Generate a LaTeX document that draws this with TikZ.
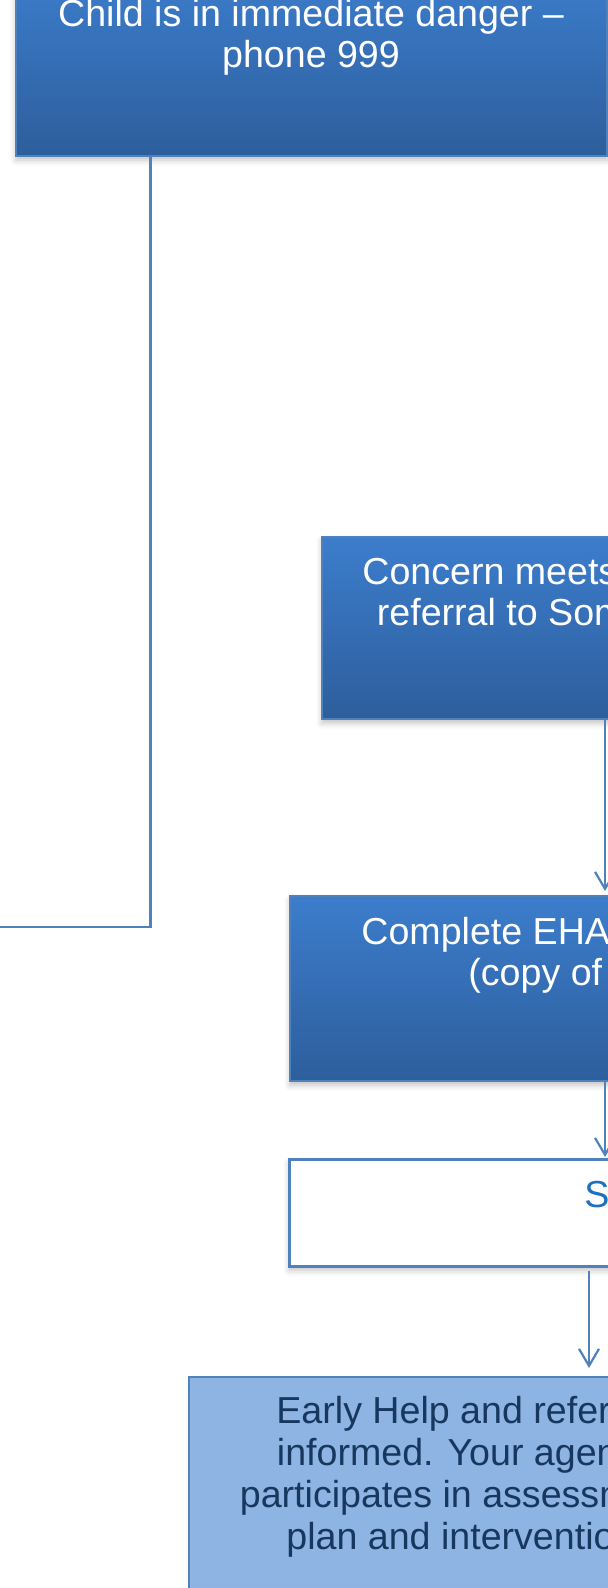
\documentclass[tikz,border=0pt]{standalone}
\usepackage{fontspec}
\setmainfont{Liberation Sans}
\usetikzlibrary{arrows.meta,shadows.blur}
\definecolor{boxtop}{RGB}{60,125,204}
\definecolor{boxbot}{RGB}{45,94,156}
\definecolor{edge}{RGB}{79,129,189}
\definecolor{pale}{RGB}{142,180,227}
\definecolor{navy}{RGB}{23,55,94}
\definecolor{sblue}{RGB}{30,112,192}
\begin{document}
\begin{tikzpicture}[x=0.5pt,y=-0.5pt,
  >={Straight Barb[length=8.5pt,width=10pt]},
  boxshadow/.style={blur shadow={shadow xshift=0pt,shadow yshift=-2pt,shadow blur radius=3pt,shadow opacity=25}},
  darkbox/.style={draw=edge,line width=1pt,top color=boxtop,bottom color=boxbot,anchor=north west,inner sep=0pt,minimum width=200pt,boxshadow},
  whitebox/.style={draw=edge,line width=1.3pt,fill=white,anchor=north west,inner sep=0pt,minimum width=200pt,boxshadow},
  palebox/.style={draw=edge,line width=1pt,fill=pale,anchor=north west,inner sep=0pt,minimum width=250pt},
  txt/.style={anchor=base west,inner sep=0pt,font=\fontsize{18.8}{22}\selectfont},
  link/.style={draw=edge,line width=1.1pt}]
\useasboundingbox (0,0) rectangle (608,1588);
\clip (0,0) rectangle (608,1588);
% boxes
\node[darkbox,minimum width=295.5pt,minimum height=91.5pt] (danger) at (15,-28) {};
\node[darkbox,minimum height=91pt] (meets) at (321,536) {};
\node[darkbox,minimum height=92.5pt] (eha) at (289,895) {};
\node[whitebox,minimum height=53.5pt] (check) at (288,1158) {};
\node[palebox,minimum height=150pt] (earlyhelp) at (188,1376) {};
% texts
\node[txt,white,anchor=base] (danger1) at (311,27) {Child is in immediate danger –};
\node[txt,white,anchor=base] (danger2) at (311,68) {phone 999};
\node[txt,white] (meets1) at (362,584) {Concern meets};
\node[txt,white] (meets2) at (376.5,625) {referral to Som};
\node[txt,white] (eha1) at (361,944) {Complete EHA};
\node[txt,white] (eha2) at (468,985) {(copy of};
\node[txt,sblue] (check1) at (584,1207) {S};
\node[txt,navy] (help1) at (276,1423) {Early Help and refer};
\node[txt,navy] (help2) at (276.5,1465) {informed. Your agen};
\node[txt,navy] (help3) at (239.5,1507) {participates in assessm};
\node[txt,navy] (help4) at (286,1549) {plan and interventio};
% connectors
\coordinate (leftout) at (-5,926.7);
\draw[link] (danger.south west) ++(135.5,0) |- (leftout);
\draw[link,->,shorten >=2pt] (meets.south west) ++(284,0) coordinate (m1) -- (m1 |- eha.north);
\draw[link,->,shorten >=0.5pt] (eha.south west) ++(316,0) coordinate (e1) -- (e1 |- check.north);
\draw[link,->,shorten <=1.5pt,shorten >=4pt] (check.south west) ++(301,0) coordinate (c1) -- (c1 |- earlyhelp.north);
\end{tikzpicture}
\end{document}
